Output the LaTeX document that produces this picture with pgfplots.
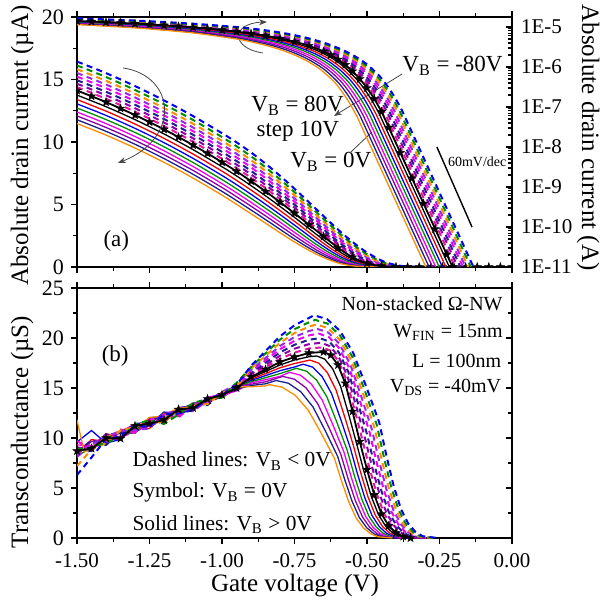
\documentclass[border=0pt]{standalone}
\usepackage{fontspec}
\setmainfont{Liberation Serif}
\usepackage{pgfplots}
\pgfplotsset{compat=1.18}
\usetikzlibrary{arrows.meta}

\newcommand{\fs}[1]{\fontsize{#1}{#1}\selectfont}

\definecolor{cRed}{RGB}{240,0,0}
\definecolor{cBlue}{RGB}{0,0,240}
\definecolor{cGreen}{RGB}{0,140,0}
\definecolor{cMag}{RGB}{240,0,240}
\definecolor{cPur}{RGB}{140,0,170}
\definecolor{cNavy}{RGB}{30,30,140}
\definecolor{cOrange}{RGB}{250,140,0}
\definecolor{cPink}{RGB}{230,20,160}
\definecolor{cViolet}{RGB}{150,40,230}
\definecolor{cArrow}{RGB}{70,70,70}

% filled five-pointed star
\pgfdeclareplotmark{fstar}{%
  \pgfpathmoveto{\pgfpointpolar{90}{\pgfplotmarksize}}%
  \pgfpathlineto{\pgfpointpolar{126}{0.4\pgfplotmarksize}}%
  \pgfpathlineto{\pgfpointpolar{162}{\pgfplotmarksize}}%
  \pgfpathlineto{\pgfpointpolar{198}{0.4\pgfplotmarksize}}%
  \pgfpathlineto{\pgfpointpolar{234}{\pgfplotmarksize}}%
  \pgfpathlineto{\pgfpointpolar{270}{0.4\pgfplotmarksize}}%
  \pgfpathlineto{\pgfpointpolar{306}{\pgfplotmarksize}}%
  \pgfpathlineto{\pgfpointpolar{342}{0.4\pgfplotmarksize}}%
  \pgfpathlineto{\pgfpointpolar{18}{\pgfplotmarksize}}%
  \pgfpathlineto{\pgfpointpolar{54}{0.4\pgfplotmarksize}}%
  \pgfpathclose
  \pgfusepathqfillstroke
}

\tikzset{txt/.style={inner sep=0pt}}

\pgfplotsset{
  panel/.style={scale only axis, width=217.5pt, height=125pt,
    xmin=-1.5, xmax=0,
    axis line style={line width=0.75pt},
    tick style={line width=0.6pt, black},
    major tick length=3pt, minor tick length=1.8pt, tick align=outside,
    xtick={-1.5,-1.25,-1,-0.75,-0.5,-0.25,0}, minor x tick num=1,
    /pgf/number format/assume math mode=true,
    tick label style={font=\fs{10.5}}},
  sol/.style={line width=0.65pt, smooth},
  das/.style={line width=1pt, dash pattern=on 3pt off 2.2pt, smooth},
  solg/.style={line width=0.65pt},
  dasg/.style={line width=1pt, dash pattern=on 3pt off 2.2pt},
  starm/.style={mark=fstar, mark size=2.2pt, mark options={solid, fill=black, draw=black, line width=0.2pt}},
}

\begin{document}
\begin{tikzpicture}
\useasboundingbox (-38.5pt,-32.5pt) rectangle (263pt,269pt);

% ---------------- (a) linear drain current ----------------
\begin{axis}[panel, at={(0pt,135.5pt)}, anchor=south west,
  ymin=0, ymax=20, ytick={0,5,10,15,20}, minor y tick num=1,
  ytick pos=left, xtick pos=both, xticklabels={}, clip marker paths=true,
  yticklabel style={font=\fs{11}}]

% V_B > 0 (solid)
\addplot[sol, black] coordinates {(-1.5,13.750) (-1.4,12.825) (-1.3,11.790) (-1.2,10.645) (-1.1,9.390) (-1.0,8.020) (-0.95,7.287) (-0.9,6.512) (-0.85,5.696) (-0.8,4.847) (-0.75,3.969) (-0.7,3.071) (-0.6734,2.588) (-0.6459,2.092) (-0.6184,1.613) (-0.5909,1.172) (-0.5634,0.793) (-0.5359,0.493) (-0.5109,0.293) (-0.4859,0.157) (-0.4609,0.074) (-0.4359,0.030) (-0.3859,0)};
\addplot[sol, cRed] coordinates {(-1.5,13.394) (-1.4,12.469) (-1.3,11.434) (-1.2,10.289) (-1.1,9.034) (-1.0,7.664) (-0.95,6.931) (-0.9,6.159) (-0.85,5.352) (-0.8,4.515) (-0.75,3.653) (-0.6968,2.716) (-0.6668,2.187) (-0.6368,1.676) (-0.6068,1.206) (-0.5768,0.802) (-0.5468,0.482) (-0.5218,0.286) (-0.4968,0.153) (-0.4718,0.073) (-0.4468,0.030) (-0.3968,0)};
\addplot[sol, cBlue] coordinates {(-1.5,13.051) (-1.4,12.126) (-1.3,11.091) (-1.2,9.946) (-1.1,8.691) (-1.0,7.321) (-0.95,6.588) (-0.9,5.820) (-0.85,5.020) (-0.8,4.196) (-0.75,3.350) (-0.7202,2.836) (-0.6877,2.276) (-0.6552,1.735) (-0.6227,1.237) (-0.5902,0.810) (-0.5577,0.471) (-0.5327,0.279) (-0.5077,0.150) (-0.4827,0.071) (-0.4577,0.029) (-0.4077,0)};
\addplot[sol, cGreen] coordinates {(-1.5,12.721) (-1.4,11.796) (-1.3,10.761) (-1.2,9.616) (-1.1,8.361) (-1.0,6.991) (-0.95,6.258) (-0.9,5.492) (-0.85,4.701) (-0.8,3.889) (-0.7436,2.947) (-0.7086,2.358) (-0.6736,1.789) (-0.6386,1.266) (-0.6036,0.816) (-0.5686,0.460) (-0.5436,0.273) (-0.5186,0.146) (-0.4936,0.069) (-0.4686,0.028) (-0.4186,0)};
\addplot[sol, cMag] coordinates {(-1.5,12.398) (-1.4,11.473) (-1.3,10.438) (-1.2,9.293) (-1.1,8.038) (-1.0,6.668) (-0.95,5.935) (-0.9,5.172) (-0.85,4.389) (-0.8,3.589) (-0.767,3.049) (-0.7295,2.434) (-0.692,1.839) (-0.6545,1.291) (-0.617,0.821) (-0.5795,0.449) (-0.5545,0.266) (-0.5295,0.143) (-0.5045,0.068) (-0.4795,0.028) (-0.4295,0)};
\addplot[sol, cPur] coordinates {(-1.5,12.087) (-1.4,11.162) (-1.3,10.127) (-1.2,8.982) (-1.1,7.727) (-1.0,6.357) (-0.95,5.624) (-0.9,4.865) (-0.85,4.090) (-0.7904,3.143) (-0.7504,2.503) (-0.7104,1.884) (-0.6704,1.314) (-0.6304,0.825) (-0.5904,0.438) (-0.5654,0.260) (-0.5404,0.139) (-0.5154,0.066) (-0.4904,0.027) (-0.4404,0)};
\addplot[sol, cNavy] coordinates {(-1.5,11.779) (-1.4,10.854) (-1.3,9.819) (-1.2,8.674) (-1.1,7.419) (-1.0,6.049) (-0.95,5.316) (-0.9,4.560) (-0.85,3.793) (-0.8138,3.229) (-0.7713,2.565) (-0.7288,1.925) (-0.6863,1.335) (-0.6438,0.828) (-0.6013,0.427) (-0.5763,0.253) (-0.5513,0.136) (-0.5263,0.064) (-0.5013,0.026) (-0.4513,0)};
\addplot[sol, cOrange] coordinates {(-1.5,11.476) (-1.4,10.551) (-1.3,9.516) (-1.2,8.371) (-1.1,7.116) (-1.0,5.746) (-0.95,5.013) (-0.9,4.260) (-0.85,3.502) (-0.8372,3.306) (-0.7922,2.621) (-0.7472,1.961) (-0.7022,1.352) (-0.6572,0.830) (-0.6122,0.416) (-0.5872,0.247) (-0.5622,0.132) (-0.5372,0.063) (-0.5122,0.026) (-0.4622,0)};

% V_B < 0 (dashed)
\addplot[das, cPink] coordinates {(-1.5,14.383) (-1.4,13.458) (-1.3,12.423) (-1.2,11.278) (-1.1,10.023) (-1.0,8.653) (-0.95,7.920) (-0.9,7.139) (-0.85,6.306) (-0.8,5.431) (-0.75,4.520) (-0.7,3.583) (-0.6541,2.711) (-0.6266,2.191) (-0.5991,1.690) (-0.5716,1.227) (-0.5441,0.831) (-0.5166,0.516) (-0.4916,0.306) (-0.4666,0.164) (-0.4416,0.078) (-0.4166,0.032) (-0.3666,0)};
\addplot[das, cPur] coordinates {(-1.5,14.659) (-1.4,13.734) (-1.3,12.699) (-1.2,11.554) (-1.1,10.299) (-1.0,8.929) (-0.95,8.196) (-0.9,7.411) (-0.85,6.569) (-0.8,5.680) (-0.75,4.751) (-0.7,3.793) (-0.6582,2.980) (-0.6282,2.400) (-0.5982,1.839) (-0.5682,1.323) (-0.5382,0.880) (-0.5082,0.529) (-0.4832,0.314) (-0.4582,0.168) (-0.4332,0.080) (-0.4082,0.033) (-0.3582,0)};
\addplot[das, cNavy] coordinates {(-1.5,14.940) (-1.4,14.015) (-1.3,12.980) (-1.2,11.835) (-1.1,10.580) (-1.0,9.210) (-0.95,8.477) (-0.9,7.689) (-0.85,6.837) (-0.8,5.935) (-0.75,4.988) (-0.7,4.009) (-0.6623,3.259) (-0.6298,2.616) (-0.5973,1.994) (-0.5648,1.422) (-0.5323,0.931) (-0.4998,0.541) (-0.4748,0.321) (-0.4498,0.172) (-0.4248,0.082) (-0.3998,0.033) (-0.3498,0)};
\addplot[das, cMag] coordinates {(-1.5,15.228) (-1.4,14.303) (-1.3,13.268) (-1.2,12.123) (-1.1,10.868) (-1.0,9.498) (-0.95,8.765) (-0.9,7.973) (-0.85,7.112) (-0.8,6.196) (-0.75,5.231) (-0.7,4.232) (-0.6664,3.548) (-0.6314,2.839) (-0.5964,2.154) (-0.5614,1.524) (-0.5264,0.983) (-0.4914,0.554) (-0.4664,0.328) (-0.4414,0.176) (-0.4164,0.083) (-0.3914,0.034) (-0.3414,0)};
\addplot[das, cViolet] coordinates {(-1.5,15.521) (-1.4,14.596) (-1.3,13.561) (-1.2,12.416) (-1.1,11.161) (-1.0,9.791) (-0.95,9.058) (-0.9,8.263) (-0.85,7.393) (-0.8,6.463) (-0.75,5.480) (-0.7,4.460) (-0.6705,3.846) (-0.633,3.069) (-0.5955,2.320) (-0.558,1.629) (-0.5205,1.036) (-0.483,0.566) (-0.458,0.336) (-0.433,0.180) (-0.408,0.085) (-0.383,0.035) (-0.333,0)};
\addplot[das, cOrange] coordinates {(-1.5,15.819) (-1.4,14.894) (-1.3,13.859) (-1.2,12.714) (-1.1,11.459) (-1.0,10.089) (-0.95,9.356) (-0.9,8.557) (-0.85,7.678) (-0.8,6.734) (-0.75,5.734) (-0.7,4.693) (-0.6746,4.153) (-0.6346,3.307) (-0.5946,2.490) (-0.5546,1.737) (-0.5146,1.091) (-0.4746,0.578) (-0.4496,0.343) (-0.4246,0.184) (-0.3996,0.087) (-0.3746,0.036) (-0.3246,0)};
\addplot[das, cGreen] coordinates {(-1.5,16.123) (-1.4,15.198) (-1.3,14.163) (-1.2,13.018) (-1.1,11.763) (-1.0,10.393) (-0.95,9.660) (-0.9,8.858) (-0.85,7.970) (-0.8,7.012) (-0.75,5.994) (-0.7,4.933) (-0.6787,4.471) (-0.6362,3.552) (-0.5937,2.665) (-0.5512,1.848) (-0.5087,1.147) (-0.4662,0.591) (-0.4412,0.351) (-0.4162,0.188) (-0.3912,0.089) (-0.3662,0.036) (-0.3162,0)};
\addplot[das, cBlue] coordinates {(-1.5,16.434) (-1.4,15.509) (-1.3,14.474) (-1.2,13.329) (-1.1,12.074) (-1.0,10.704) (-0.95,9.971) (-0.9,9.166) (-0.85,8.269) (-0.8,7.297) (-0.75,6.261) (-0.7,5.179) (-0.6828,4.798) (-0.6378,3.805) (-0.5928,2.846) (-0.5478,1.962) (-0.5028,1.204) (-0.4578,0.603) (-0.4328,0.358) (-0.4078,0.192) (-0.3828,0.091) (-0.3578,0.037) (-0.3078,0)};

% V_B = 0 (symbol)
\addplot[sol, black, line width=0.9pt] coordinates {(-1.5,14.113) (-1.45,13.664) (-1.4,13.188) (-1.35,12.684) (-1.3,12.153) (-1.25,11.594) (-1.2,11.008) (-1.15,10.394) (-1.1,9.753) (-1.05,9.083) (-1.0,8.383) (-0.95,7.650) (-0.9,6.872) (-0.85,6.048) (-0.8,5.187) (-0.75,4.294) (-0.7,3.379) (-0.65,2.451) (-0.625,1.990) (-0.6,1.545) (-0.575,1.135) (-0.55,0.783) (-0.525,0.504) (-0.5,0.299) (-0.475,0.160) (-0.45,0.076) (-0.425,0.031) (-0.4,0.010) (-0.36,0) (0,0)};
\addplot[only marks, starm] coordinates {(-1.5,14.113) (-1.45,13.664) (-1.4,13.188) (-1.35,12.684) (-1.3,12.153) (-1.25,11.594) (-1.2,11.008) (-1.15,10.394) (-1.1,9.753) (-1.05,9.083) (-1.0,8.383) (-0.95,7.650) (-0.9,6.872) (-0.85,6.048) (-0.8,5.187) (-0.75,4.294) (-0.7,3.379) (-0.65,2.451) (-0.6,1.545) (-0.55,0.783) (-0.5,0.299) (-0.45,0.076) (-0.4,0.010) (-0.36,0) (-0.32,0) (-0.28,0) (-0.24,0) (-0.2,0) (-0.16,0) (-0.12,0) (-0.08,0) (-0.04,0) (0,0)};

% annotations
\node[txt, anchor=base west, font=\fs{11.5}] at (axis cs:-0.379,15.6) {V\textsubscript{B} = -80V};
\draw[cArrow, line width=0.4pt, -{Stealth[length=4pt,width=3pt]}] (axis cs:-0.379,15.44) -- (axis cs:-0.614,12.08);
\node[txt, anchor=base west, font=\fs{11.5}] at (axis cs:-0.900,12.4) {V\textsubscript{B} = 80V};
\node[txt, anchor=base west, font=\fs{11.5}] at (axis cs:-0.882,10.4) {step 10V};
\node[txt, anchor=base west, font=\fs{11.5}] at (axis cs:-0.766,7.92) {V\textsubscript{B} = 0V};
\draw[cArrow, line width=0.4pt] (axis cs:-0.559,9.12) -- (axis cs:-0.483,10.8);
\draw[black, line width=0.7pt] (axis cs:-0.259,9.6) -- (axis cs:-0.138,3.2);
\node[txt, anchor=base west, font=\fs{7}] at (axis cs:-0.222,8.0) {60mV/dec};
\node[txt, anchor=base west, font=\fs{11.5}] at (axis cs:-1.410,1.6) {(a)};
\draw[cArrow, line width=0.4pt, -{Stealth[length=4pt,width=3pt]}] (axis cs:-0.859,17.12) .. controls (axis cs:-0.97,17.5) and (axis cs:-0.97,19.5) .. (axis cs:-0.845,19.6);
\draw[cArrow, line width=0.4pt, -{Stealth[length=4pt,width=3pt]}] (axis cs:-1.341,15.92) .. controls (axis cs:-1.16,15.3) and (axis cs:-1.14,10.3) .. (axis cs:-1.359,8.32);
\end{axis}

% ---------------- (a) log drain current (right axis) ----------------
\begin{axis}[panel, at={(0pt,135.5pt)}, anchor=south west,
  axis y line*=right, axis x line=none, tick align=inside,
  ymin=-11, ymax=-4.75, ytick={-11,-10,-9,-8,-7,-6,-5},
  yticklabels={1E-11,1E-10,1E-9,1E-8,1E-7,1E-6,1E-5},
  minor ytick={-10.699,-10.523,-10.398,-10.301,-10.222,-10.155,-10.097,-10.046,
    -9.699,-9.523,-9.398,-9.301,-9.222,-9.155,-9.097,-9.046,
    -8.699,-8.523,-8.398,-8.301,-8.222,-8.155,-8.097,-8.046,
    -7.699,-7.523,-7.398,-7.301,-7.222,-7.155,-7.097,-7.046,
    -6.699,-6.523,-6.398,-6.301,-6.222,-6.155,-6.097,-6.046,
    -5.699,-5.523,-5.398,-5.301,-5.222,-5.155,-5.097,-5.046},
  clip marker paths=true,
  yticklabel style={font=\fs{10.5}, xshift=1pt}]

\addplot[sol, black] coordinates {(-1.5,-4.862) (-1.3,-4.929) (-1.1,-5.027) (-0.95,-5.137) (-0.9,-5.186) (-0.85,-5.244) (-0.8,-5.314) (-0.75,-5.401) (-0.7,-5.513) (-0.6734,-5.587) (-0.6459,-5.679) (-0.6184,-5.792) (-0.5909,-5.931) (-0.5634,-6.101) (-0.5359,-6.307) (-0.5109,-6.534) (-0.4859,-6.805) (-0.4609,-7.129) (-0.4359,-7.517) (-0.216,-11)};
\addplot[sol, cRed] coordinates {(-1.5,-4.873) (-1.3,-4.942) (-1.1,-5.044) (-0.95,-5.159) (-0.9,-5.211) (-0.85,-5.272) (-0.8,-5.345) (-0.75,-5.437) (-0.6968,-5.566) (-0.6668,-5.660) (-0.6368,-5.776) (-0.6068,-5.919) (-0.5768,-6.096) (-0.5468,-6.317) (-0.5218,-6.544) (-0.4968,-6.815) (-0.4718,-7.139) (-0.4468,-7.527) (-0.228,-11)};
\addplot[sol, cBlue] coordinates {(-1.5,-4.884) (-1.3,-4.955) (-1.1,-5.061) (-0.95,-5.181) (-0.9,-5.235) (-0.85,-5.299) (-0.8,-5.377) (-0.75,-5.475) (-0.7202,-5.547) (-0.6877,-5.643) (-0.6552,-5.761) (-0.6227,-5.908) (-0.5902,-6.092) (-0.5577,-6.327) (-0.5327,-6.554) (-0.5077,-6.825) (-0.4827,-7.149) (-0.4577,-7.538) (-0.240,-11)};
\addplot[sol, cGreen] coordinates {(-1.5,-4.896) (-1.3,-4.968) (-1.1,-5.078) (-0.95,-5.204) (-0.9,-5.260) (-0.85,-5.328) (-0.8,-5.410) (-0.7436,-5.531) (-0.7086,-5.627) (-0.6736,-5.747) (-0.6386,-5.898) (-0.6036,-6.088) (-0.5686,-6.337) (-0.5436,-6.564) (-0.5186,-6.836) (-0.4936,-7.159) (-0.4686,-7.548) (-0.251,-11)};
\addplot[sol, cMag] coordinates {(-1.5,-4.907) (-1.3,-4.981) (-1.1,-5.095) (-0.95,-5.227) (-0.9,-5.286) (-0.85,-5.358) (-0.8,-5.445) (-0.767,-5.516) (-0.7295,-5.614) (-0.692,-5.735) (-0.6545,-5.889) (-0.617,-6.086) (-0.5795,-6.348) (-0.5545,-6.575) (-0.5295,-6.846) (-0.5045,-7.170) (-0.4795,-7.559) (-0.263,-11)};
\addplot[sol, cPur] coordinates {(-1.5,-4.918) (-1.3,-4.995) (-1.1,-5.112) (-0.95,-5.250) (-0.9,-5.313) (-0.85,-5.388) (-0.7904,-5.503) (-0.7504,-5.602) (-0.7104,-5.725) (-0.6704,-5.881) (-0.6304,-6.084) (-0.5904,-6.359) (-0.5654,-6.586) (-0.5404,-6.857) (-0.5154,-7.181) (-0.4904,-7.569) (-0.274,-11)};
\addplot[sol, cNavy] coordinates {(-1.5,-4.929) (-1.3,-5.008) (-1.1,-5.130) (-0.95,-5.274) (-0.9,-5.341) (-0.85,-5.421) (-0.8138,-5.491) (-0.7713,-5.591) (-0.7288,-5.716) (-0.6863,-5.875) (-0.6438,-6.082) (-0.6013,-6.370) (-0.5763,-6.597) (-0.5513,-6.868) (-0.5263,-7.192) (-0.5013,-7.580) (-0.286,-11)};
\addplot[sol, cOrange] coordinates {(-1.5,-4.940) (-1.3,-5.022) (-1.1,-5.148) (-0.95,-5.300) (-0.9,-5.371) (-0.85,-5.456) (-0.8372,-5.481) (-0.7922,-5.582) (-0.7472,-5.708) (-0.7022,-5.869) (-0.6572,-6.081) (-0.6122,-6.381) (-0.5872,-6.608) (-0.5622,-6.879) (-0.5372,-7.203) (-0.5122,-7.592) (-0.297,-11)};

\addplot[das, cPink] coordinates {(-1.5,-4.842) (-1.3,-4.906) (-1.1,-4.999) (-0.95,-5.101) (-0.9,-5.146) (-0.85,-5.200) (-0.8,-5.265) (-0.75,-5.345) (-0.7,-5.446) (-0.6541,-5.567) (-0.6266,-5.659) (-0.5991,-5.772) (-0.5716,-5.911) (-0.5441,-6.080) (-0.5166,-6.287) (-0.4916,-6.514) (-0.4666,-6.785) (-0.4416,-7.109) (-0.4166,-7.498) (-0.196,-11)};
\addplot[das, cPur] coordinates {(-1.5,-4.834) (-1.3,-4.896) (-1.1,-4.987) (-0.95,-5.086) (-0.9,-5.130) (-0.85,-5.183) (-0.8,-5.246) (-0.75,-5.323) (-0.7,-5.421) (-0.6582,-5.526) (-0.6282,-5.620) (-0.5982,-5.735) (-0.5682,-5.878) (-0.5382,-6.056) (-0.5082,-6.277) (-0.4832,-6.504) (-0.4582,-6.775) (-0.4332,-7.099) (-0.4082,-7.487) (-0.187,-11)};
\addplot[das, cNavy] coordinates {(-1.5,-4.826) (-1.3,-4.887) (-1.1,-4.976) (-0.95,-5.072) (-0.9,-5.114) (-0.85,-5.165) (-0.8,-5.227) (-0.75,-5.302) (-0.7,-5.397) (-0.6623,-5.487) (-0.6298,-5.582) (-0.5973,-5.700) (-0.5648,-5.847) (-0.5323,-6.031) (-0.4998,-6.267) (-0.4748,-6.494) (-0.4498,-6.765) (-0.4248,-7.089) (-0.3998,-7.478) (-0.178,-11)};
\addplot[das, cMag] coordinates {(-1.5,-4.817) (-1.3,-4.877) (-1.1,-4.964) (-0.95,-5.057) (-0.9,-5.098) (-0.85,-5.148) (-0.8,-5.208) (-0.75,-5.281) (-0.7,-5.373) (-0.6664,-5.450) (-0.6314,-5.547) (-0.5964,-5.667) (-0.5614,-5.817) (-0.5264,-6.007) (-0.4914,-6.257) (-0.4664,-6.484) (-0.4414,-6.755) (-0.4164,-7.079) (-0.3914,-7.467) (-0.169,-11)};
\addplot[das, cViolet] coordinates {(-1.5,-4.809) (-1.3,-4.868) (-1.1,-4.952) (-0.95,-5.043) (-0.9,-5.083) (-0.85,-5.131) (-0.8,-5.190) (-0.75,-5.261) (-0.7,-5.351) (-0.6705,-5.415) (-0.633,-5.513) (-0.5955,-5.635) (-0.558,-5.788) (-0.5205,-5.985) (-0.483,-6.247) (-0.458,-6.474) (-0.433,-6.745) (-0.408,-7.069) (-0.383,-7.457) (-0.160,-11)};
\addplot[das, cOrange] coordinates {(-1.5,-4.801) (-1.3,-4.858) (-1.1,-4.941) (-0.95,-5.029) (-0.9,-5.068) (-0.85,-5.115) (-0.8,-5.172) (-0.75,-5.242) (-0.7,-5.329) (-0.6746,-5.382) (-0.6346,-5.481) (-0.5946,-5.604) (-0.5546,-5.760) (-0.5146,-5.962) (-0.4746,-6.238) (-0.4496,-6.465) (-0.4246,-6.735) (-0.3996,-7.060) (-0.3746,-7.449) (-0.151,-11)};
\addplot[das, cGreen] coordinates {(-1.5,-4.793) (-1.3,-4.849) (-1.1,-4.930) (-0.95,-5.015) (-0.9,-5.053) (-0.85,-5.099) (-0.8,-5.154) (-0.75,-5.222) (-0.7,-5.307) (-0.6787,-5.350) (-0.6362,-5.450) (-0.5937,-5.574) (-0.5512,-5.733) (-0.5087,-5.940) (-0.4662,-6.228) (-0.4412,-6.455) (-0.4162,-6.727) (-0.3912,-7.051) (-0.3662,-7.439) (-0.142,-11)};
\addplot[das, cBlue] coordinates {(-1.5,-4.784) (-1.3,-4.839) (-1.1,-4.918) (-0.95,-5.001) (-0.9,-5.038) (-0.85,-5.083) (-0.8,-5.137) (-0.75,-5.203) (-0.7,-5.286) (-0.6828,-5.319) (-0.6378,-5.420) (-0.5928,-5.546) (-0.5478,-5.707) (-0.5028,-5.919) (-0.4578,-6.220) (-0.4328,-6.446) (-0.4078,-6.717) (-0.3828,-7.041) (-0.3578,-7.430) (-0.133,-11)};

\addplot[sol, black, line width=0.9pt, starm] coordinates {(-1.5,-4.850) (-1.45,-4.864) (-1.4,-4.880) (-1.35,-4.897) (-1.3,-4.915) (-1.25,-4.936) (-1.2,-4.958) (-1.15,-4.983) (-1.1,-5.011) (-1.05,-5.042) (-1.0,-5.077) (-0.95,-5.116) (-0.9,-5.163) (-0.85,-5.218) (-0.8,-5.285) (-0.75,-5.367) (-0.7,-5.471) (-0.65,-5.611) (-0.625,-5.701) (-0.6,-5.811) (-0.575,-5.945) (-0.55,-6.106) (-0.525,-6.298) (-0.5,-6.524) (-0.475,-6.796) (-0.45,-7.119) (-0.425,-7.509) (-0.385,-8.144) (-0.345,-8.779) (-0.305,-9.414) (-0.265,-10.049) (-0.225,-10.684) (-0.205,-11.0)};
\end{axis}

% ---------------- (b) transconductance ----------------
\begin{axis}[panel, at={(0pt,0pt)}, anchor=south west,
  ymin=0, ymax=25, ytick={0,5,10,15,20,25}, minor y tick num=1,
  xtick pos=both, ytick pos=left, xticklabel pos=bottom,
  xticklabel style={/pgf/number format/fixed, /pgf/number format/fixed zerofill,
    /pgf/number format/precision=2, yshift=-3.5pt, inner sep=1pt},
  yticklabel style={font=\fs{11}}]

\addplot[solg, black] coordinates {(-1.5,9.1) (-1.45,8.75) (-1.4,10.1) (-1.35,10.55) (-1.3,10.5) (-1.25,11.95) (-1.2,11.9) (-1.15,12.25) (-1.1,13.5) (-1.05,13.5) (-1.0,14.4) (-0.95,14.8) (-0.9,15.99) (-0.85,16.65) (-0.8,17.30) (-0.75,17.80) (-0.7,18.13) (-0.6734,18.20) (-0.6459,17.89) (-0.6184,16.92) (-0.5909,15.14) (-0.5634,12.38) (-0.5359,9.44) (-0.5109,6.69) (-0.4859,4.22) (-0.4609,2.36) (-0.4359,1.19) (-0.4109,0.49) (-0.3859,0.15) (-0.3359,0)};
\addplot[solg, cRed] coordinates {(-1.5,8.4) (-1.45,9.85) (-1.4,9.6) (-1.35,10.75) (-1.3,11.0) (-1.25,10.95) (-1.2,12.4) (-1.15,12.75) (-1.1,12.7) (-1.05,14.0) (-1.0,14.1) (-0.95,15.2) (-0.9,15.86) (-0.85,16.44) (-0.8,17.02) (-0.75,17.45) (-0.6968,17.79) (-0.6668,17.49) (-0.6368,16.54) (-0.6068,14.80) (-0.5768,12.10) (-0.5468,9.23) (-0.5218,6.54) (-0.4968,4.13) (-0.4718,2.31) (-0.4468,1.16) (-0.4218,0.48) (-0.3968,0.14) (-0.3468,0)};
\addplot[solg, cBlue] coordinates {(-1.5,9.6) (-1.45,10.75) (-1.4,9.5) (-1.35,9.85) (-1.3,11.4) (-1.25,11.65) (-1.2,11.6) (-1.15,13.05) (-1.1,13.2) (-1.05,13.4) (-1.0,14.5) (-0.95,14.9) (-0.9,15.74) (-0.85,16.24) (-0.8,16.73) (-0.75,17.10) (-0.7202,17.38) (-0.6877,17.09) (-0.6552,16.16) (-0.6227,14.47) (-0.5902,11.83) (-0.5577,9.01) (-0.5327,6.39) (-0.5077,4.04) (-0.4827,2.25) (-0.4577,1.14) (-0.4327,0.47) (-0.4077,0.14) (-0.3577,0)};
\addplot[solg, cGreen] coordinates {(-1.5,8.2) (-1.45,9.05) (-1.4,10.2) (-1.35,10.05) (-1.3,10.7) (-1.25,12.05) (-1.2,12.1) (-1.15,12.15) (-1.1,13.4) (-1.05,13.8) (-1.0,14.0) (-0.95,15.1) (-0.9,15.62) (-0.85,16.03) (-0.8,16.44) (-0.7436,16.97) (-0.7086,16.68) (-0.6736,15.78) (-0.6386,14.13) (-0.6036,11.55) (-0.5686,8.80) (-0.5436,6.24) (-0.5186,3.94) (-0.4936,2.20) (-0.4686,1.11) (-0.4436,0.46) (-0.4186,0.14) (-0.3686,0)};
\addplot[solg, cMag] coordinates {(-1.5,9.3) (-1.45,9.25) (-1.4,9.4) (-1.35,10.65) (-1.3,11.4) (-1.25,11.15) (-1.2,12.3) (-1.15,12.55) (-1.1,12.8) (-1.05,14.1) (-1.0,14.3) (-0.95,14.7) (-0.9,15.50) (-0.85,15.83) (-0.8,16.16) (-0.767,16.57) (-0.7295,16.28) (-0.692,15.40) (-0.6545,13.79) (-0.617,11.27) (-0.5795,8.59) (-0.5545,6.09) (-0.5295,3.85) (-0.5045,2.15) (-0.4795,1.08) (-0.4545,0.45) (-0.4295,0.13) (-0.3795,0)};
\addplot[solg, cPur] coordinates {(-1.5,8.5) (-1.45,9.65) (-1.4,9.9) (-1.35,9.85) (-1.3,11.1) (-1.25,11.75) (-1.2,11.5) (-1.15,12.95) (-1.1,13.3) (-1.05,13.5) (-1.0,14.6) (-0.95,15.2) (-0.9,15.37) (-0.85,15.62) (-0.7904,16.16) (-0.7504,15.88) (-0.7104,15.02) (-0.6704,13.45) (-0.6304,10.99) (-0.5904,8.38) (-0.5654,5.94) (-0.5404,3.75) (-0.5154,2.09) (-0.4904,1.06) (-0.4654,0.44) (-0.4404,0.13) (-0.3904,0)};
\addplot[solg, cNavy] coordinates {(-1.5,8.9) (-1.45,8.65) (-1.4,10.3) (-1.35,10.45) (-1.3,10.6) (-1.25,11.35) (-1.2,12.6) (-1.15,12.35) (-1.1,12.9) (-1.05,14.0) (-1.0,14.2) (-0.95,14.9) (-0.9,15.25) (-0.85,15.42) (-0.8138,15.75) (-0.7713,15.48) (-0.7288,14.64) (-0.6863,13.11) (-0.6438,10.72) (-0.6013,8.17) (-0.5763,5.79) (-0.5513,3.66) (-0.5263,2.04) (-0.5013,1.03) (-0.4763,0.43) (-0.4513,0.13) (-0.4013,0)};
\addplot[solg, cOrange] coordinates {(-1.5,11.8) (-1.475,8.6) (-1.45,9.05) (-1.4,10.1) (-1.35,10.75) (-1.3,11.0) (-1.25,12.05) (-1.2,12.2) (-1.15,13.05) (-1.1,13.0) (-1.05,13.9) (-1.0,14.3) (-0.95,15.1) (-0.9,15.13) (-0.85,15.21) (-0.8372,15.34) (-0.7922,15.08) (-0.7472,14.26) (-0.7022,12.77) (-0.6572,10.44) (-0.6122,7.96) (-0.5872,5.64) (-0.5622,3.56) (-0.5372,1.99) (-0.5122,1.00) (-0.4872,0.42) (-0.4622,0.12) (-0.4122,0)};

\addplot[dasg, cPink] coordinates {(-1.5,8.3) (-1.45,9.55) (-1.4,9.7) (-1.35,10.85) (-1.3,10.5) (-1.25,11.65) (-1.2,12.3) (-1.15,12.25) (-1.1,13.2) (-1.05,13.5) (-1.0,14.5) (-0.95,15.2) (-0.9,16.25) (-0.85,17.08) (-0.8,17.91) (-0.75,18.54) (-0.7,18.95) (-0.6541,19.06) (-0.6266,18.74) (-0.5991,17.72) (-0.5716,15.86) (-0.5441,12.97) (-0.5166,9.89) (-0.4916,7.01) (-0.4666,4.43) (-0.4416,2.47) (-0.4166,1.25) (-0.3916,0.52) (-0.3666,0.15) (-0.3166,0)};
\addplot[dasg, cPur] coordinates {(-1.5,9.0) (-1.45,9.05) (-1.4,10.4) (-1.35,10.05) (-1.3,11.0) (-1.25,11.05) (-1.2,12.1) (-1.15,12.95) (-1.1,12.9) (-1.05,13.9) (-1.0,14.2) (-0.95,14.9) (-0.9,16.39) (-0.85,17.31) (-0.8,18.23) (-0.75,18.93) (-0.7,19.39) (-0.6582,19.52) (-0.6282,19.19) (-0.5982,18.15) (-0.5682,16.25) (-0.5382,13.28) (-0.5082,10.12) (-0.4832,7.18) (-0.4582,4.53) (-0.4332,2.53) (-0.4082,1.28) (-0.3832,0.53) (-0.3582,0.16) (-0.3082,0)};
\addplot[dasg, cNavy] coordinates {(-1.5,8.6) (-1.45,9.75) (-1.4,9.3) (-1.35,10.55) (-1.3,11.3) (-1.25,11.25) (-1.2,11.7) (-1.15,12.75) (-1.1,13.4) (-1.05,13.3) (-1.0,14.4) (-0.95,15.3) (-0.9,16.52) (-0.85,17.54) (-0.8,18.56) (-0.75,19.32) (-0.7,19.83) (-0.6623,19.98) (-0.6298,19.64) (-0.5973,18.57) (-0.5648,16.63) (-0.5323,13.59) (-0.4998,10.36) (-0.4748,7.35) (-0.4498,4.64) (-0.4248,2.59) (-0.3998,1.31) (-0.3748,0.54) (-0.3498,0.16) (-0.2998,0)};
\addplot[dasg, cMag] coordinates {(-1.5,9.7) (-1.45,8.85) (-1.4,10.0) (-1.35,10.15) (-1.3,10.6) (-1.25,11.85) (-1.2,12.2) (-1.15,12.05) (-1.1,13.3) (-1.05,14.0) (-1.0,14.1) (-0.95,15.0) (-0.9,16.66) (-0.85,17.77) (-0.8,18.88) (-0.75,19.71) (-0.7,20.26) (-0.6664,20.44) (-0.6314,20.09) (-0.5964,19.00) (-0.5614,17.01) (-0.5264,13.91) (-0.4914,10.60) (-0.4664,7.52) (-0.4414,4.74) (-0.4164,2.65) (-0.3914,1.34) (-0.3664,0.55) (-0.3414,0.16) (-0.2914,0)};
\addplot[dasg, cViolet] coordinates {(-1.5,8.1) (-1.45,9.35) (-1.4,10.2) (-1.35,10.65) (-1.3,10.8) (-1.25,10.95) (-1.2,12.5) (-1.15,12.65) (-1.1,12.7) (-1.05,13.7) (-1.0,14.6) (-0.95,15.4) (-0.9,16.8) (-0.85,18.0) (-0.8,19.2) (-0.75,20.1) (-0.7,20.7) (-0.6705,20.90) (-0.633,20.54) (-0.5955,19.43) (-0.558,17.39) (-0.5205,14.22) (-0.483,10.84) (-0.458,7.69) (-0.433,4.85) (-0.408,2.71) (-0.383,1.37) (-0.358,0.57) (-0.333,0.17) (-0.283,0)};
\addplot[dasg, cOrange] coordinates {(-1.5,7.2) (-1.45,8.85) (-1.4,9.5) (-1.35,10.75) (-1.3,11.1) (-1.25,11.55) (-1.2,11.6) (-1.15,12.85) (-1.1,13.2) (-1.05,13.4) (-1.0,14.5) (-0.95,15.1) (-0.9,16.94) (-0.85,18.23) (-0.8,19.52) (-0.75,20.49) (-0.7,21.14) (-0.6746,21.35) (-0.6346,20.99) (-0.5946,19.85) (-0.5546,17.77) (-0.5146,14.53) (-0.4746,11.07) (-0.4496,7.85) (-0.4246,4.96) (-0.3996,2.77) (-0.3746,1.39) (-0.3496,0.58) (-0.3246,0.17) (-0.2746,0)};
\addplot[dasg, cGreen] coordinates {(-1.5,8.9) (-1.45,8.95) (-1.4,9.6) (-1.35,9.95) (-1.3,11.4) (-1.25,11.75) (-1.2,11.4) (-1.15,12.35) (-1.1,13.5) (-1.05,13.9) (-1.0,14.2) (-0.95,15.5) (-0.9,17.08) (-0.85,18.46) (-0.8,19.84) (-0.75,20.88) (-0.7,21.57) (-0.6787,21.81) (-0.6362,21.44) (-0.5937,20.28) (-0.5512,18.15) (-0.5087,14.84) (-0.4662,11.31) (-0.4412,8.02) (-0.4162,5.06) (-0.3912,2.83) (-0.3662,1.42) (-0.3412,0.59) (-0.3162,0.18) (-0.2662,0)};
\addplot[dasg, cBlue] coordinates {(-1.5,6.3) (-1.45,8.05) (-1.4,9.9) (-1.35,10.15) (-1.3,11.2) (-1.25,11.15) (-1.2,12.4) (-1.15,12.45) (-1.1,12.8) (-1.05,14.0) (-1.0,14.3) (-0.95,15.3) (-0.9,17.21) (-0.85,18.69) (-0.8,20.17) (-0.75,21.27) (-0.7,22.01) (-0.6828,22.27) (-0.6378,21.89) (-0.5928,20.70) (-0.5478,18.53) (-0.5028,15.15) (-0.4578,11.55) (-0.4328,8.19) (-0.4078,5.17) (-0.3828,2.89) (-0.3578,1.45) (-0.3328,0.60) (-0.3078,0.18) (-0.2578,0)};

\addplot[solg, black, line width=0.9pt, starm] coordinates {(-1.5,8.7) (-1.45,8.95) (-1.4,10.0) (-1.35,9.95) (-1.3,11.2) (-1.25,11.45) (-1.2,11.8) (-1.15,12.85) (-1.1,13.0) (-1.05,13.9) (-1.0,14.3) (-0.95,15.0) (-0.9,16.1) (-0.85,16.85) (-0.8,17.6) (-0.75,18.1) (-0.7,18.5) (-0.65,18.61) (-0.625,18.29) (-0.6,17.3) (-0.575,15.48) (-0.55,12.66) (-0.525,9.65) (-0.5,6.84) (-0.475,4.32) (-0.45,2.41) (-0.425,1.22) (-0.4,0.5) (-0.375,0.15) (-0.35,0)};

\node[txt, anchor=base west, font=\fs{11.5}] at (axis cs:-1.416,17.6) {(b)};
\node[txt, anchor=base east, font=\fs{10}] at (axis cs:-0.031,22.7) {Non-stacked Ω-NW};
\node[txt, anchor=base east, font=\fs{10}] at (axis cs:-0.031,20.0) {W\textsubscript{FIN} = 15nm};
\node[txt, anchor=base east, font=\fs{10}] at (axis cs:-0.036,17.0) {L = 100nm};
\node[txt, anchor=base east, font=\fs{10}] at (axis cs:-0.036,14.5) {V\textsubscript{DS} = -40mV};
\node[txt, anchor=base west, font=\fs{10.7}] at (axis cs:-1.31,7.1) {Dashed lines: V\textsubscript{B} < 0V};
\node[txt, anchor=base west, font=\fs{10.7}] at (axis cs:-1.31,4.0) {Symbol: V\textsubscript{B} = 0V};
\node[txt, anchor=base west, font=\fs{10.7}] at (axis cs:-1.31,0.8) {Solid lines: V\textsubscript{B} > 0V};
\end{axis}

% right-hand ticks of (b), pointing inwards
\begin{axis}[panel, at={(0pt,0pt)}, anchor=south west,
  axis y line*=right, axis x line=none, tick align=inside,
  ymin=0, ymax=25, ytick={0,5,10,15,20,25}, minor y tick num=1,
  yticklabels={}]
\end{axis}

% axis titles
\node[rotate=90, font=\fs{12.5}] at (-27.5pt,196.25pt) {Absolute drain current (µA)};
\node[rotate=-90, font=\fs{12.5}] at (255.5pt,200.25pt) {Absolute drain current (A)};
\node[rotate=90, font=\fs{12.5}] at (-27.5pt,53pt) {Transconductance (µS)};
\node[font=\fs{12.5}, inner sep=0.5pt] at (109pt,-24pt) {Gate voltage (V)};
\end{tikzpicture}
\end{document}
